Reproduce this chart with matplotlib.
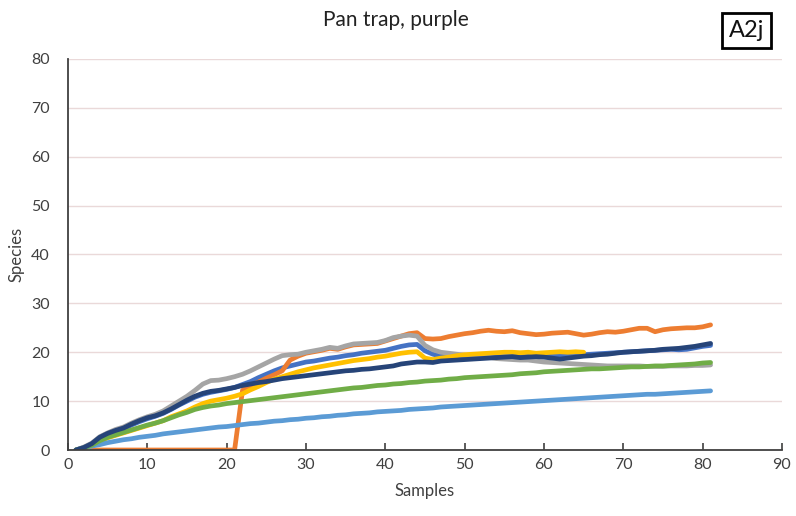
import matplotlib
matplotlib.use("Agg")
import matplotlib.pyplot as plt
from matplotlib.ticker import MultipleLocator

plt.rcParams['font.family'] = ['Lato', 'DejaVu Sans']

# Species accumulation per sample (samples 1..n)
blue = [0, 0.5, 1.2, 2.4, 3.2, 3.8, 4.3, 5.1, 5.8, 6.4,
        6.9, 7.5, 8.3, 9.2, 10.0, 10.8, 11.4, 11.8, 12.1, 12.4,
        12.8, 13.4, 14.0, 14.8, 15.5, 16.2, 16.8, 17.2, 17.6, 18.0,
        18.2, 18.5, 18.8, 19.0, 19.3, 19.5, 19.8, 20.0, 20.2, 20.4,
        20.8, 21.2, 21.5, 21.6, 20.3, 19.6, 19.2, 19.0, 18.9, 18.9,
        18.9, 19.0, 19.0, 19.1, 19.1, 19.1, 19.2, 19.2, 19.1, 19.2,
        19.2, 19.3, 19.3, 19.4, 19.5, 19.6, 19.7, 19.8, 19.9, 20.0,
        20.1, 20.2, 20.3, 20.4, 20.5, 20.6, 20.5, 20.6, 20.9, 21.2, 21.4]

orange_start = 3
orange = [0, 0, 0, 0, 0, 0, 0, 0, 0, 0,
          0, 0, 0, 0, 0, 0, 0, 0, 0,
          12.2, 13.2, 13.9, 14.7, 15.4, 16.2, 18.4, 19.2, 19.8,
          20.1, 20.4, 20.8, 20.6, 21.1, 21.5, 21.6, 21.7, 21.8, 22.3,
          22.8, 23.3, 23.8, 24.0, 22.8, 22.7, 22.8, 23.2, 23.5, 23.8,
          24.0, 24.3, 24.5, 24.3, 24.2, 24.4, 24.0, 23.8, 23.6, 23.7,
          23.9, 24.0, 24.1, 23.8, 23.5, 23.7, 24.0, 24.2, 24.1, 24.3,
          24.6, 24.9, 24.9, 24.2, 24.6, 24.8, 24.9, 25.0, 25.0, 25.2, 25.6]

grey = [0, 0.6, 1.4, 2.7, 3.5, 4.2, 4.7, 5.5, 6.2, 6.8,
        7.3, 8.0, 9.0, 10.0, 11.0, 12.2, 13.5, 14.2, 14.3, 14.6,
        15.0, 15.5, 16.2, 17.0, 17.8, 18.6, 19.3, 19.5, 19.6, 20.0,
        20.3, 20.6, 21.0, 20.8, 21.3, 21.7, 21.8, 21.9, 22.0, 22.4,
        23.0, 23.3, 23.5, 23.3, 21.4, 20.5, 20.0, 19.8, 19.6, 19.4,
        19.2, 19.0, 19.0, 18.7, 18.6, 18.5, 18.4, 18.4, 18.2, 18.0,
        17.9, 17.8, 17.7, 17.6, 17.5, 17.4, 17.3, 17.2, 17.2, 17.2,
        17.2, 17.2, 17.1, 17.1, 17.1, 17.2, 17.2, 17.2, 17.3, 17.3, 17.4]

gold = [0, 0.3, 0.9, 1.8, 2.5, 3.0, 3.5, 4.0, 4.5, 5.0,
        5.5, 6.0, 6.8, 7.4, 8.0, 8.8, 9.5, 10.0, 10.3, 10.6,
        11.0, 11.5, 12.3, 13.0, 13.8, 14.5, 15.0, 15.5, 16.0, 16.4,
        16.8, 17.1, 17.4, 17.7, 18.0, 18.3, 18.5, 18.7, 19.0, 19.2,
        19.5, 19.8, 20.0, 20.1, 18.8, 18.5, 18.8, 19.0, 19.3, 19.5,
        19.6, 19.7, 19.8, 19.9, 20.0, 20.0, 19.9, 20.0, 19.8, 19.9,
        20.0, 20.1, 20.0, 20.1, 20.0]

light_blue = [0, 0.4, 0.8, 1.1, 1.5, 1.8, 2.1, 2.3, 2.6, 2.8,
              3.0, 3.3, 3.5, 3.7, 3.9, 4.1, 4.3, 4.5, 4.7, 4.8,
              5.0, 5.2, 5.4, 5.5, 5.7, 5.9, 6.0, 6.2, 6.3, 6.5,
              6.6, 6.8, 6.9, 7.1, 7.2, 7.4, 7.5, 7.6, 7.8, 7.9,
              8.0, 8.1, 8.3, 8.4, 8.5, 8.6, 8.8, 8.9, 9.0, 9.1,
              9.2, 9.3, 9.4, 9.5, 9.6, 9.7, 9.8, 9.9, 10.0, 10.1,
              10.2, 10.3, 10.4, 10.5, 10.6, 10.7, 10.8, 10.9, 11.0, 11.1,
              11.2, 11.3, 11.4, 11.4, 11.5, 11.6, 11.7, 11.8, 11.9, 12.0, 12.1]

green = [0, 0.4, 1.0, 1.9, 2.6, 3.1, 3.6, 4.1, 4.6, 5.1,
         5.5, 6.0, 6.6, 7.2, 7.7, 8.3, 8.7, 9.0, 9.2, 9.5,
         9.7, 9.9, 10.1, 10.3, 10.5, 10.7, 10.9, 11.1, 11.3, 11.5,
         11.7, 11.9, 12.1, 12.3, 12.5, 12.7, 12.8, 13.0, 13.2, 13.3,
         13.5, 13.6, 13.8, 13.9, 14.1, 14.2, 14.3, 14.5, 14.6, 14.8,
         14.9, 15.0, 15.1, 15.2, 15.3, 15.4, 15.6, 15.7, 15.8, 16.0,
         16.1, 16.2, 16.3, 16.4, 16.5, 16.6, 16.6, 16.7, 16.8, 16.9,
         17.0, 17.0, 17.1, 17.2, 17.2, 17.3, 17.4, 17.5, 17.6, 17.8, 17.9]

dark_blue = [0, 0.5, 1.3, 2.6, 3.4, 4.0, 4.5, 5.3, 6.0, 6.6,
             7.0, 7.6, 8.4, 9.3, 10.2, 11.0, 11.6, 12.0, 12.2, 12.5,
             12.8, 13.2, 13.5, 13.8, 14.0, 14.3, 14.6, 14.8, 15.0, 15.2,
             15.4, 15.6, 15.8, 16.0, 16.2, 16.3, 16.5, 16.6, 16.8, 17.0,
             17.2, 17.6, 17.8, 18.0, 18.0, 17.9, 18.2, 18.3, 18.4, 18.5,
             18.6, 18.7, 18.8, 18.9, 19.0, 19.1, 18.9, 19.0, 19.1, 19.0,
             18.8, 18.6, 18.8, 19.0, 19.2, 19.3, 19.5, 19.6, 19.8, 20.0,
             20.1, 20.2, 20.3, 20.4, 20.6, 20.7, 20.8, 21.0, 21.2, 21.5, 21.8]

series = [
    (blue, 1, '#4472C4'),
    (orange, orange_start, '#ED7D31'),
    (grey, 1, '#A5A5A5'),
    (gold, 1, '#FFC000'),
    (light_blue, 1, '#5B9BD5'),
    (green, 1, '#70AD47'),
    (dark_blue, 1, '#264478'),
]

fig = plt.figure(figsize=(7.96, 5.16), dpi=100)
ax = fig.add_axes([0.0854, 0.1279, 0.897, 0.7578])

for vals, start, color in series:
    xs = list(range(start, start + len(vals)))
    ax.plot(xs, vals, color=color, lw=3.4, solid_capstyle='round',
            solid_joinstyle='round')

ax.set_xlim(0, 90)
ax.set_ylim(0, 80)
ax.xaxis.set_major_locator(MultipleLocator(10))
ax.yaxis.set_major_locator(MultipleLocator(10))
ax.grid(axis='y', color='#EAD9D9', lw=1.0)
ax.set_axisbelow(True)

for side in ('top', 'right'):
    ax.spines[side].set_visible(False)
for side in ('left', 'bottom'):
    ax.spines[side].set_color('#404040')
    ax.spines[side].set_linewidth(1.3)

ax.tick_params(axis='x', direction='in', length=5, width=1.2, color='#404040',
               labelsize=11.5, labelcolor='#404040', pad=6)
ax.tick_params(axis='y', length=0, labelsize=11.5, labelcolor='#404040', pad=13)

ax.set_xlabel('Samples', fontsize=12, color='#404040', labelpad=8)
ax.set_ylabel('Species', fontsize=12, color='#404040', labelpad=5)

fig.text(0.4975, 0.961, 'Pan trap, purple', ha='center', va='center',
         fontsize=15, color='#222222')
fig.text(0.938, 0.941, 'A2j', ha='center', va='center', fontsize=17,
         color='#111111',
         bbox=dict(boxstyle='square,pad=0.28', fc='white', ec='black', lw=2.0))

fig.savefig('out.png', dpi=100)
